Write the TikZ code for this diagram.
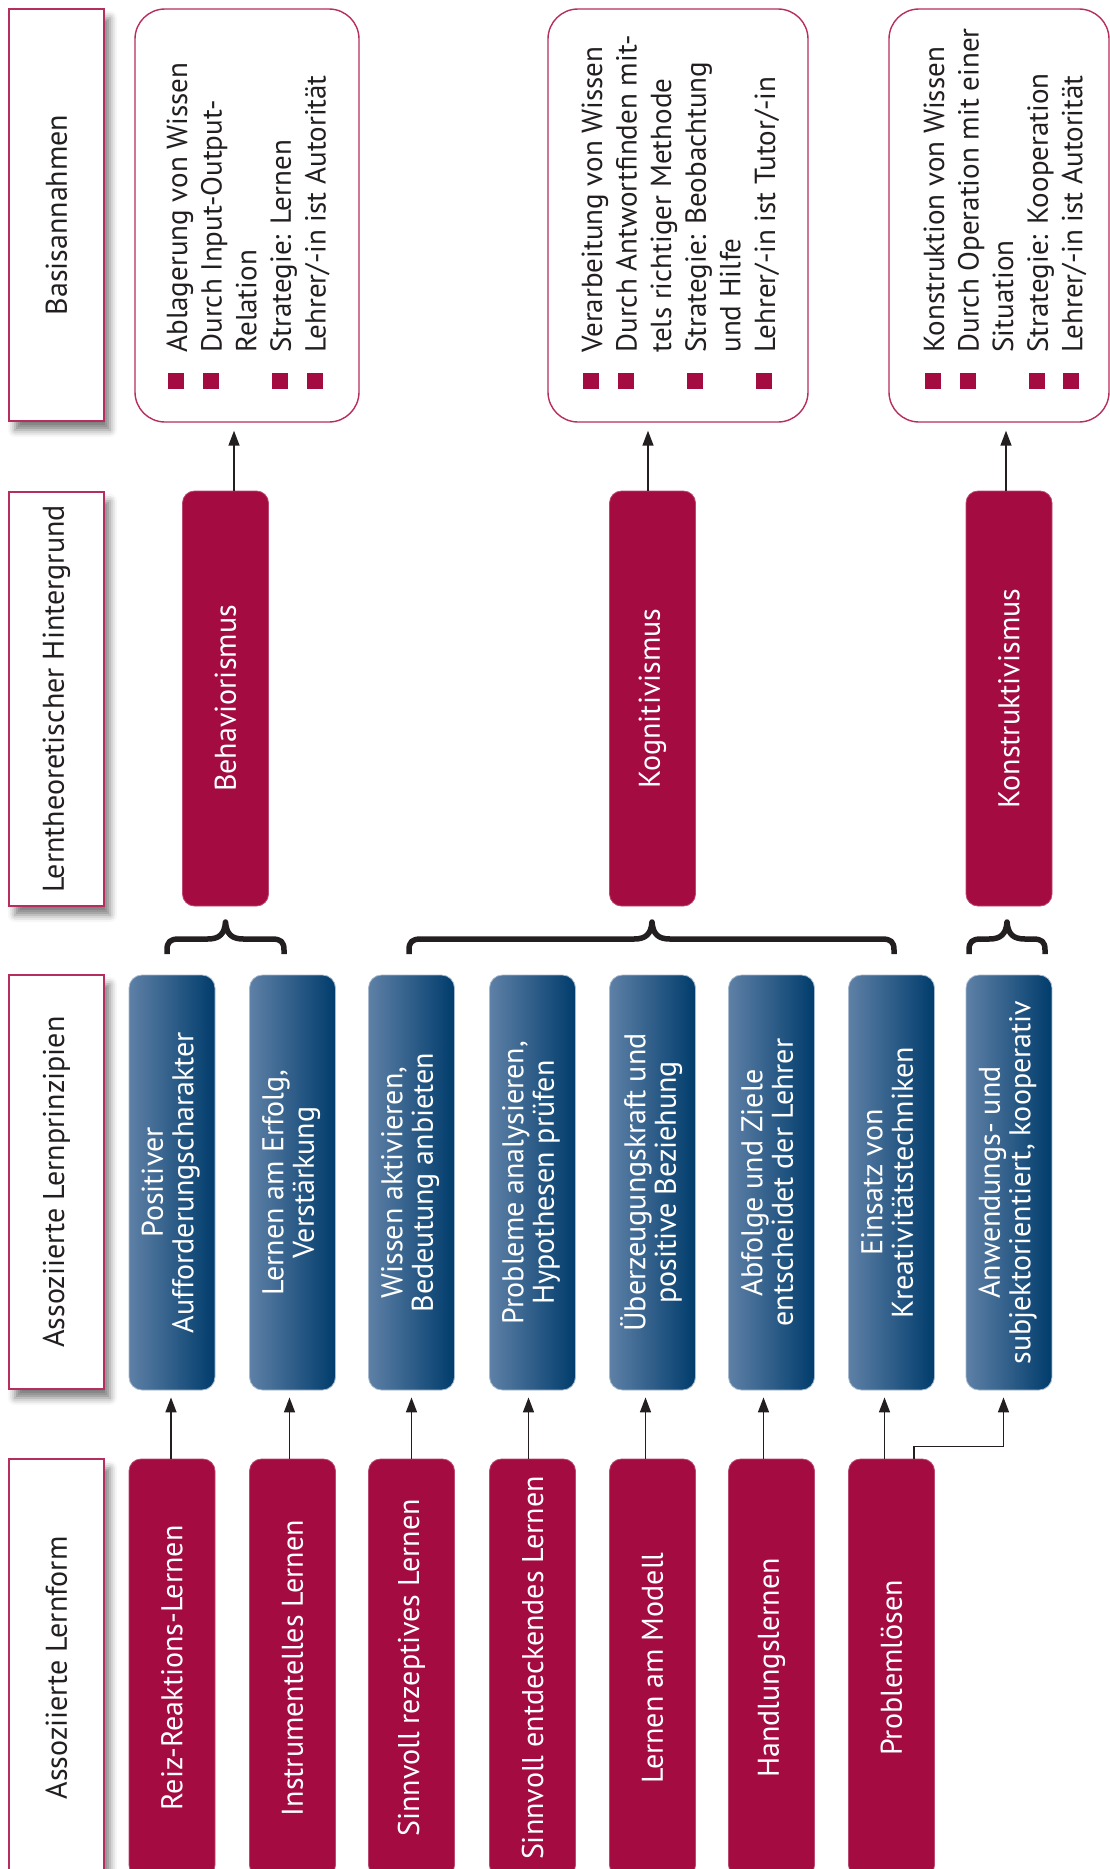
\documentclass[tikz,border=0pt]{standalone}
\usepackage{fontspec}
\setmainfont{PT Sans}
\usetikzlibrary{arrows.meta,shadows.blur}
\definecolor{crim}{RGB}{163,11,65}
\definecolor{crimline}{RGB}{182,45,95}
\definecolor{bla}{RGB}{94,128,166}
\definecolor{blb}{RGB}{36,84,132}
\definecolor{blc}{RGB}{0,60,108}
\definecolor{ink}{RGB}{35,31,32}
\newcommand{\kbul}{\makebox[36pt][l]{\textcolor{crim}{\raisebox{3pt}{\rule{16pt}{16pt}}}}}
\newcommand{\knob}{\hspace*{36pt}}
\newcommand{\rtx}[1]{\rotatebox{90}{#1}}
\newcommand{\rtwo}[2]{\rotatebox{90}{\begin{tabular}{@{}c@{}}#1\\#2\end{tabular}}}
\newcommand{\rlist}[1]{\rotatebox{90}{\parbox[t]{375pt}{\fontsize{29}{34.6}\selectfont\raggedright #1}}}
\newcommand{\kbrace}[3]{%
  \draw[brc] (#1,954) -- (#1,950) .. controls (#1,942) and ({#1+3},939) .. ({#1+12},939)
    -- ({#3-18},939) .. controls ({#3-6},939) and ({#3-1},934) .. (#3,922)
    .. controls ({#3+1},934) and ({#3+6},939) .. ({#3+18},939)
    -- ({#2-12},939) .. controls ({#2-3},939) and (#2,942) .. (#2,950) -- (#2,954);}
\begin{document}
\begin{tikzpicture}[x=1pt,y=-1pt,
  every node/.style={font=\fontsize{30}{30.5}\selectfont, inner sep=0pt},
  hdr/.style={draw=crimline, line width=1.4pt, fill=white, minimum width=95pt, text=ink,
     blur shadow={shadow xshift=6pt, shadow yshift=-9pt, shadow blur radius=7pt, shadow opacity=50}},
  kno/.style={draw=crimline, line width=1.4pt, fill=white, rounded corners=30pt, minimum height=413pt},
  ktx/.style={anchor=south west, text=ink},
  thr/.style={fill=crim, draw=crim!75!white, line width=0.8pt, rounded corners=12pt, minimum width=86pt, minimum height=415pt, text=white},
  prn/.style={left color=bla, middle color=blb, right color=blc, draw=bla!55!white, line width=0.8pt, rounded corners=13pt, minimum width=86pt, minimum height=415pt, text=white},
  frm/.style={fill=crim, draw=crim!75!white, line width=0.8pt, rounded corners=12pt, minimum width=86pt, minimum height=418pt, text=white},
  arr/.style={draw=ink, line width=1.5pt, -{Triangle[length=15pt,width=11pt]}},
  brc/.style={draw=ink, line width=5.5pt, line join=round}
]
\useasboundingbox (0,0) rectangle (1110,1869);
\clip (0,0) rectangle (1110,1869);

% header column
\node[hdr, minimum height=412pt] (h1) at (56.5,215) {\rtx{Basisannahmen}};
\node[hdr, minimum height=414pt] (h2) at (56.5,699) {\rtx{Lerntheoretischer Hintergrund}};
\node[hdr, minimum height=414pt] (h3) at (56.5,1182) {\rtx{Assoziierte Lernprinzipien}};
\node[hdr, minimum height=418pt] (h4) at (56.5,1668) {\rtx{Assoziierte Lernform}};

% basic assumptions
\node[kno, minimum width=224pt] (k1) at (247,215.5) {};
\node[kno, minimum width=260pt] (k2) at (678,215.5) {};
\node[kno, minimum width=220pt] (k3) at (999,215.5) {};
\node[ktx] (k1t) at ([xshift=32pt,yshift=34pt]k1.south west) {\rlist{\kbul Ablagerung von Wissen\\ \kbul Durch Input-Output-\\ \knob Relation\\ \kbul Strategie: Lernen\\ \kbul Lehrer/-in ist Autorität}};
\node[ktx] (k2t) at ([xshift=34pt,yshift=34pt]k2.south west) {\rlist{\kbul Verarbeitung von Wissen\\ \kbul Durch Antwortfinden mit-\\ \knob tels richtiger Methode\\ \kbul Strategie: Beobachtung\\ \knob und Hilfe\\ \kbul Lehrer/-in ist Tutor/-in}};
\node[ktx] (k3t) at ([xshift=35pt,yshift=34pt]k3.south west) {\rlist{\kbul Konstruktion von Wissen\\ \kbul Durch Operation mit einer\\ \knob Situation\\ \kbul Strategie: Kooperation\\ \kbul Lehrer/-in ist Autorität}};

% theories
\node[thr] (beh) at (225.5,698.5) {\rtx{Behaviorismus}};
\node[thr] (kog) at (652.5,698.5) {\rtx{Kognitivismus}};
\node[thr] (kon) at (1009,698.5) {\rtx{Konstruktivismus}};

% principles
\node[prn] (p1) at (172,1182.5) {\rtwo{Positiver}{Aufforderungscharakter}};
\node[prn] (p2) at (292.5,1182.5) {\rtwo{Lernen am Erfolg,}{Verstärkung}};
\node[prn] (p3) at (411.5,1182.5) {\rtwo{Wissen aktivieren,}{Bedeutung anbieten}};
\node[prn] (p4) at (532.5,1182.5) {\rtwo{Probleme analysieren,}{Hypothesen prüfen}};
\node[prn] (p5) at (652.5,1182.5) {\rtwo{Überzeugungskraft und}{positive Beziehung}};
\node[prn] (p6) at (771.5,1182.5) {\rtwo{Abfolge und Ziele}{entscheidet der Lehrer}};
\node[prn] (p7) at (891.5,1182.5) {\rtwo{Einsatz von}{Kreativitätstechniken}};
\node[prn] (p8) at (1009,1182.5) {\rtwo{Anwendungs- und}{subjektorientiert, kooperativ}};

% learning forms
\node[frm] (f1) at (172,1668) {\rtx{Reiz-Reaktions-Lernen}};
\node[frm] (f2) at (292.5,1668) {\rtx{Instrumentelles Lernen}};
\node[frm] (f3) at (411.5,1668) {\rtx{Sinnvoll rezeptives Lernen}};
\node[frm] (f4) at (532.5,1668) {\rtx{Sinnvoll entdeckendes Lernen}};
\node[frm] (f5) at (652.5,1668) {\rtx{Lernen am Modell}};
\node[frm] (f6) at (771.5,1668) {\rtx{Handlungslernen}};
\node[frm] (f7) at (891.5,1668) {\rtx{Problemlösen}};

% arrows theory -> assumptions
\coordinate (a1) at ([xshift=8.5pt]beh.north);
\coordinate (a2) at ([xshift=-4.5pt]kog.north);
\coordinate (a3) at ([xshift=-3pt]kon.north);
\draw[arr, shorten >=8pt] (a1) -- (a1 |- k1.south);
\draw[arr, shorten >=8pt] (a2) -- (a2 |- k2.south);
\draw[arr, shorten >=8pt] (a3) -- (a3 |- k3.south);

% arrows forms -> principles
\foreach \i/\d in {1/-1pt,2/-3pt,3/0pt,4/-4pt,5/-7pt,6/-8pt,7/-7pt}{
  \coordinate (c\i) at ([xshift=\d]f\i.north);
  \draw[arr, shorten >=7pt] (c\i) -- (c\i |- p\i.south);
}
\coordinate (c8) at ([xshift=22.5pt]f7.north);
\coordinate (e8) at ([xshift=-5.5pt]p8.south);
\draw[arr, shorten >=7pt] (c8) |- ([yshift=-56pt]e8) -- (e8);

% braces
\kbrace{167}{284}{225.5}
\kbrace{409}{894}{652}
\kbrace{969}{1045}{1007}
\end{tikzpicture}
\end{document}
